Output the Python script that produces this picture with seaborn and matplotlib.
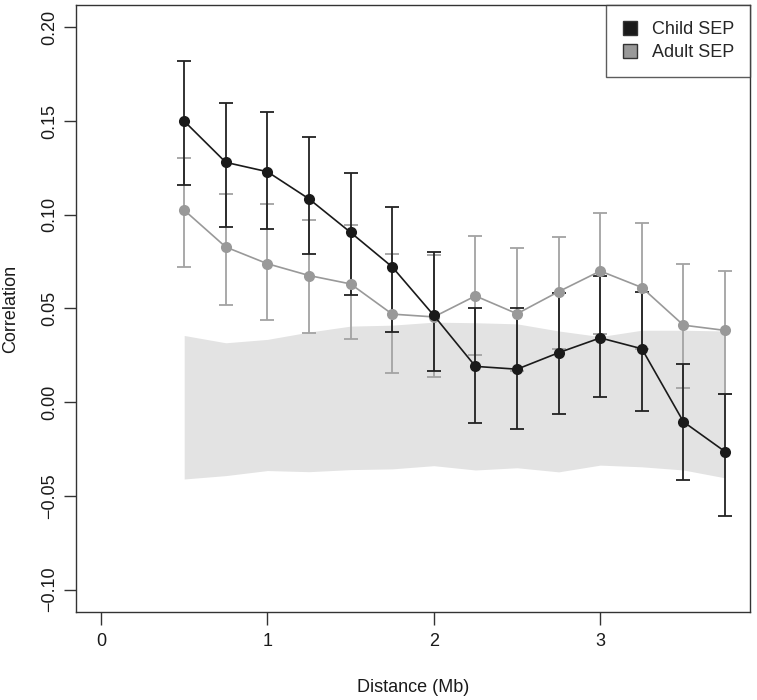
import matplotlib
matplotlib.use("Agg")
import matplotlib.pyplot as plt
import matplotlib.patches as mpatches
import seaborn as sns
import pandas as pd

distance = [0.5, 0.75, 1.0, 1.25, 1.5, 1.75, 2.0, 2.25, 2.5, 2.75, 3.0, 3.25, 3.5, 3.75]

child = [0.150, 0.128, 0.123, 0.1085, 0.0906, 0.0722, 0.0463, 0.0191, 0.0176,
         0.0264, 0.0343, 0.0285, -0.0105, -0.0264]
child_upper = [0.182, 0.1596, 0.155, 0.1417, 0.1225, 0.1044, 0.080, 0.0502, 0.050,
               0.0584, 0.0671, 0.0586, 0.0206, 0.0041]
child_lower = [0.116, 0.0933, 0.0924, 0.0791, 0.0574, 0.0375, 0.0167, -0.011, -0.0142,
               -0.0065, 0.0029, -0.0048, -0.0417, -0.061]

adult = [0.1025, 0.0828, 0.0739, 0.0676, 0.0631, 0.0470, 0.0455, 0.0567, 0.0472,
         0.0590, 0.0700, 0.0612, 0.0411, 0.0383]
adult_upper = [0.1305, 0.1113, 0.1059, 0.0970, 0.0947, 0.0790, 0.0785, 0.0888, 0.0823,
               0.0880, 0.1009, 0.0957, 0.0738, 0.0702]
adult_lower = [0.0722, 0.0518, 0.0436, 0.0369, 0.0336, 0.0154, 0.0137, 0.0252, 0.0165,
               0.0283, 0.0363, 0.0285, 0.0075, 0.0043]

band_upper = [0.0356, 0.0317, 0.0335, 0.0374, 0.0406, 0.0411, 0.0427, 0.0424, 0.0418,
              0.0380, 0.0350, 0.0384, 0.0384, 0.0380]
band_lower = [-0.0410, -0.0392, -0.0365, -0.0371, -0.0360, -0.0356, -0.0339, -0.0362,
              -0.0350, -0.0372, -0.0336, -0.0345, -0.0362, -0.0404]

labels = ["Child SEP", "Adult SEP"]
x_ticks = [0, 1, 2, 3]
y_ticks = [-0.10, -0.05, 0.00, 0.05, 0.10, 0.15, 0.20]

BLACK = "#1a1a1a"
GREY = "#999999"

df = pd.DataFrame({
    "distance": distance * 2,
    "corr": child + adult,
    "group": [labels[0]] * len(distance) + [labels[1]] * len(distance),
})

sns.set_style("ticks")
plt.rcParams["font.family"] = ["Liberation Sans", "DejaVu Sans"]

fig = plt.figure(figsize=(7.57, 7.0), dpi=100)
ax = fig.add_axes([0.1004, 0.1257, 0.8904, 0.8672])

# Серая полоса (нулевое распределение)
ax.fill_between(distance, band_lower, band_upper, color="#e3e3e3", linewidth=0, zorder=1)

# Доверительные интервалы
ax.errorbar(distance, adult,
            yerr=[[a - l for a, l in zip(adult, adult_lower)],
                  [u - a for a, u in zip(adult, adult_upper)]],
            fmt="none", ecolor="#a3a3a3", elinewidth=1.3, capsize=5, capthick=1.3, zorder=2)
ax.errorbar(distance, child,
            yerr=[[c - l for c, l in zip(child, child_lower)],
                  [u - c for c, u in zip(child, child_upper)]],
            fmt="none", ecolor="#222222", elinewidth=1.3, capsize=5, capthick=1.3, zorder=4)

sns.lineplot(data=df, x="distance", y="corr", hue="group", hue_order=labels[::-1],
             palette={labels[0]: BLACK, labels[1]: GREY}, marker="o", markersize=8,
             markeredgewidth=0, linewidth=1.2, legend=False, ax=ax, zorder=5)

ax.set_xlim(-0.15, 3.9)
ax.set_ylim(-0.112, 0.212)
ax.set_xticks(x_ticks)
ax.set_xticklabels([str(t) for t in x_ticks])
ax.set_yticks(y_ticks)
ax.set_yticklabels(["\u22120.10", "\u22120.05", "0.00", "0.05", "0.10", "0.15", "0.20"],
                   rotation=90, va="center")
ax.tick_params(axis="both", length=9, width=1, color="#333333", labelsize=13,
               labelcolor="#1a1a1a")
ax.tick_params(axis="x", pad=6)
ax.tick_params(axis="y", pad=4)
for s in ax.spines.values():
    s.set_color("#333333")
    s.set_linewidth(1)

ax.set_xlabel("Distance (Mb)", fontsize=13, labelpad=21, color="#1a1a1a")
ax.set_ylabel("Correlation", fontsize=13, labelpad=16, color="#1a1a1a")

handles = [mpatches.Patch(facecolor=BLACK, edgecolor="#333333", label=labels[0]),
           mpatches.Patch(facecolor=GREY, edgecolor="#333333", label=labels[1])]
leg = ax.legend(handles=handles, loc="upper right", fontsize=13, frameon=True,
                fancybox=False, borderaxespad=0, handlelength=0.8, handleheight=0.8,
                handletextpad=0.8, borderpad=0.9, labelspacing=0.3)
leg.get_frame().set_edgecolor("#333333")
leg.get_frame().set_linewidth(1)

fig.savefig("out.png", dpi=100)
plt.close()
